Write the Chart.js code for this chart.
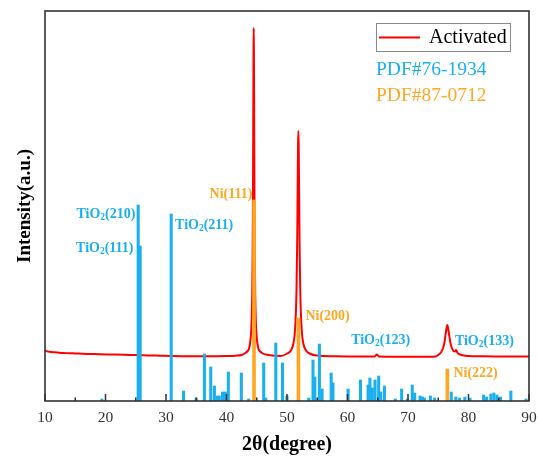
<!DOCTYPE html>
<html>
<head>
<meta charset="utf-8">
<script src="https://cdn.jsdelivr.net/npm/chart.js@4"></script>
<style>
html,body{margin:0;padding:0;background:#fff;}
canvas{display:block;}
</style>
</head>
<body>
<canvas id="c" width="539" height="461"></canvas>
<script>
// ---------- DATA ----------
const seriesName = 'Activated';
const refBlueName = 'PDF#76-1934';
const refOrangeName = 'PDF#87-0712';
const xTickValues = [10, 20, 30, 40, 50, 60, 70, 80, 90];

// Activated XRD pattern (2θ, intensity a.u.)
const activatedX = [10, 10.5, 11, 12, 13, 14, 15, 17, 19, 21, 23, 25, 27, 29, 31, 34, 37, 40, 41.5,
  42.5, 43.0, 43.5, 43.7, 43.9, 44.05, 44.15, 44.25, 44.32, 44.38, 44.43, 44.47, 44.5, 44.53, 44.57, 44.62,
  44.68, 44.75, 44.85, 44.95, 45.1, 45.3, 45.5, 46.0, 46.5, 47.5, 49,
  49.9, 50.7, 51.08, 51.28, 51.48, 51.58, 51.68, 51.73, 51.78, 51.83, 51.88, 51.93, 51.98, 52.03, 52.08,
  52.18, 52.28, 52.48, 52.68, 53.08, 53.9, 55, 58, 62, 64.5, 64.85, 65.2, 68, 72, 74.5,
  75.0, 75.5, 75.8, 76.0, 76.2, 76.35, 76.5, 76.65, 76.8, 77.0, 77.2, 77.5, 77.75, 77.95, 78.2, 78.6,
  79.5, 82, 86, 90];
const activatedY = [50.5, 49.5, 49, 48.5, 48, 47.8, 47.5, 47, 46.8, 46.5, 46.2, 46, 45.6, 45.3, 45, 44.8, 44.8, 45, 45.3,
  46, 47.5, 50, 52, 58, 67, 80, 106, 146, 209, 290, 354, 373, 354, 290, 209,
  146, 106, 80, 67, 58, 52, 50, 47.5, 46.5, 45.5, 45,
  47, 51, 58, 67.5, 90, 114, 157.5, 189, 225, 257, 270, 257, 225, 189, 157.5,
  114, 90, 67.5, 58, 51, 47, 45.5, 44.8, 44.5, 44.5, 46.5, 44.5, 44.3, 44.2, 44.5,
  46, 49, 53, 58, 66, 72, 76, 72, 66, 58.5, 54, 50, 49.5, 51, 48, 46.5,
  45.3, 44.8, 44.5, 44.5];

// PDF#76-1934 (TiO2) reference lines
const tio2Pos = [19.4, 25.4, 25.73, 30.86, 32.9, 35.0, 36.35, 37.4, 38.0, 38.5, 38.8, 39.35, 39.8, 40.3,
  42.45, 43.66, 46.15, 46.5, 48.15, 49.25, 50.0, 53.6, 54.3, 54.6, 55.35, 55.8, 57.3, 57.6, 60.1,
  62.15, 63.4, 63.7, 64.1, 64.55, 65.15, 65.5, 66.1, 67.9, 68.95, 69.9, 70.7, 71.1, 72.0, 72.4, 72.7,
  73.7, 74.4, 77.15, 77.9, 78.5, 79.4, 80.25, 82.5, 83.0, 83.7, 84.2, 84.7, 85.3, 87.0, 89.5];
const tio2Int = [2, 196, 155, 187, 10, 3, 47, 34, 15, 5, 5, 9, 9, 29,
  28, 2, 38, 3, 58, 38, 5, 3, 41, 24, 57, 12, 28, 18, 12,
  21, 16, 23, 13, 21, 25, 9, 15, 2, 12, 2, 16, 8, 5, 4, 3,
  5, 3, 9, 4, 3, 4, 3, 6, 4, 7, 8, 6, 4, 10, 2];

// PDF#87-0712 (Ni) reference lines
const niPos = [44.55, 51.89, 76.5];
const niInt = [201, 83, 32];

// Peak labels: text, anchor (2θ, intensity)
const peakLabelText = ['TiO₂(210)', 'TiO₂(111)', 'TiO₂(211)', 'Ni(111)', 'Ni(200)', 'TiO₂(123)', 'TiO₂(133)', 'Ni(222)'];
const peakLabelX    = [24.95, 24.62, 31.5, 44.27, 53.05, 60.6, 77.75, 77.5];
const peakLabelY    = [187, 153, 176, 207, 85, 61, 60, 28];
const peakLabelSet  = ['blue', 'blue', 'blue', 'orange', 'orange', 'blue', 'blue', 'orange'];
const peakLabelSide = ['right', 'right', 'left', 'right', 'left', 'left', 'left', 'left'];

// ---------- STYLE ----------
const BLUE = '#1AB0F0';
const ORANGE = '#FFA722';
const RED = '#FF0000';
const SERIF = '"Liberation Serif", "Times New Roman", serif';

const toXY = (xs, ys) => xs.map((x, i) => ({x: x, y: ys[i]}));

function drawRich(ctx, text, x, y, align, color) {
  const parts = [];
  for (const ch of text) {
    if (ch === '₂') parts.push({t: '2', sub: true});
    else {
      if (parts.length && !parts[parts.length - 1].sub) parts[parts.length - 1].t += ch;
      else parts.push({t: ch, sub: false});
    }
  }
  const mainFont = 'bold 14px ' + SERIF;
  const subFont = 'bold 9.5px ' + SERIF;
  let w = 0;
  parts.forEach(p => { ctx.font = p.sub ? subFont : mainFont; p.w = ctx.measureText(p.t).width; w += p.w; });
  let cx = align === 'right' ? x - w : x;
  ctx.fillStyle = color;
  ctx.textBaseline = 'middle';
  ctx.textAlign = 'left';
  parts.forEach(p => {
    ctx.font = p.sub ? subFont : mainFont;
    ctx.fillText(p.t, cx, p.sub ? y + 4 : y);
    cx += p.w;
  });
}

const decorPlugin = {
  id: 'decor',
  afterDatasetsDraw(chart) {
    const {ctx, chartArea: a, scales: {x, y}} = chart;
    ctx.save();
    // inward ticks
    ctx.strokeStyle = '#333';
    ctx.lineWidth = 1.5;
    for (let v = 10; v <= 90; v += 5) {
      const px = x.getPixelForValue(v);
      const len = v % 10 === 0 ? 7 : 3.5;
      ctx.beginPath();
      ctx.moveTo(px, a.bottom);
      ctx.lineTo(px, a.bottom - len);
      ctx.stroke();
    }
    // frame
    ctx.strokeStyle = '#333';
    ctx.lineWidth = 1.6;
    ctx.strokeRect(a.left, a.top, a.right - a.left, a.bottom - a.top);

    // peak labels
    peakLabelText.forEach((t, i) => {
      drawRich(ctx, t, x.getPixelForValue(peakLabelX[i]), y.getPixelForValue(peakLabelY[i]),
        peakLabelSide[i], peakLabelSet[i] === 'blue' ? BLUE : ORANGE);
    });

    // legend box
    const lx = 376, ly = 23, lw = 134, lh = 28;
    ctx.strokeStyle = '#8a8a8a';
    ctx.lineWidth = 1;
    ctx.strokeRect(lx + 0.5, ly + 0.5, lw, lh);
    ctx.strokeStyle = RED;
    ctx.lineWidth = 2;
    ctx.beginPath();
    ctx.moveTo(lx + 3, ly + 14.5);
    ctx.lineTo(lx + 44, ly + 14.5);
    ctx.stroke();
    ctx.fillStyle = '#000';
    ctx.font = '20px ' + SERIF;
    ctx.textBaseline = 'middle';
    ctx.textAlign = 'left';
    ctx.fillText(seriesName, lx + 53, ly + 15);

    ctx.font = '19.5px ' + SERIF;
    ctx.fillStyle = BLUE;
    ctx.fillText(refBlueName, 376, 70);
    ctx.fillStyle = ORANGE;
    ctx.fillText(refOrangeName, 376, 96);
    ctx.restore();
  }
};

new Chart(document.getElementById('c'), {
  data: {
    datasets: [
      {type: 'line', label: seriesName, data: toXY(activatedX, activatedY), borderColor: RED, borderWidth: 2,
       pointRadius: 0, cubicInterpolationMode: 'monotone', fill: false, order: 3},
      {type: 'bar', label: refBlueName, data: toXY(tio2Pos, tio2Int), backgroundColor: BLUE,
       barThickness: 2.4, grouped: false, order: 2},
      {type: 'bar', label: refOrangeName, data: toXY(niPos, niInt), backgroundColor: ORANGE,
       barThickness: 3, grouped: false, order: 1}
    ]
  },
  options: {
    responsive: false,
    animation: false,
    devicePixelRatio: 1,
    layout: {padding: {left: 0, top: 11, right: 10, bottom: 0}},
    plugins: {legend: {display: false}, tooltip: {enabled: false}},
    scales: {
      x: {
        type: 'linear', min: 10, max: 90, offset: false,
        afterBuildTicks(s) { s.ticks = xTickValues.map(v => ({value: v})); },
        ticks: {padding: 8, color: '#333', font: {family: SERIF, size: 15.5}},
        grid: {display: false, drawTicks: false, offset: false},
        border: {display: false},
        title: {display: true, text: '2θ(degree)', color: '#000',
                font: {family: SERIF, size: 20, weight: 'bold'}, padding: {top: 0, bottom: 4}},
        afterFit(s) { s.height = 60; s.paddingLeft = 0; s.paddingRight = 0; }
      },
      y: {
        type: 'linear', min: 0, max: 390,
        ticks: {display: false},
        grid: {display: false, drawTicks: false},
        border: {display: false},
        title: {display: true, text: 'Intensity(a.u.)', color: '#000',
                font: {family: SERIF, size: 19, weight: 'bold'}, padding: {top: 14, bottom: 0}},
        afterFit(s) { s.width = 45; }
      }
    }
  },
  plugins: [decorPlugin]
});
</script>
</body>
</html>
